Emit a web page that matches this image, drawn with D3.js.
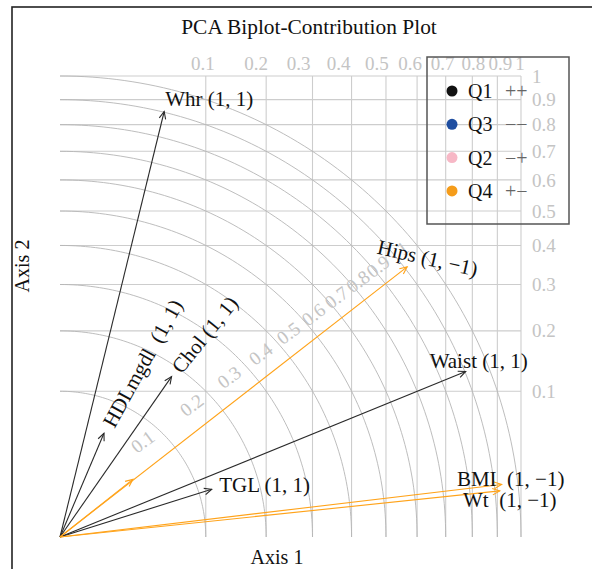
<!DOCTYPE html>
<html><head><meta charset="utf-8">
<script src="https://cdn.jsdelivr.net/npm/d3@7"></script>
<style>
body{margin:0;background:#fff}
text{font-family:"Liberation Serif","Times New Roman",Times,serif}
</style>
</head><body>
<svg id="c" width="592" height="569"></svg>
<script>
// ---- data ----
const cos2Ticks = [0.1,0.2,0.3,0.4,0.5,0.6,0.7,0.8,0.9,1];
const tickLabels = ["0.1","0.2","0.3","0.4","0.5","0.6","0.7","0.8","0.9","1"];
const variables = ["Whr","HDLmgdl","Chol","Hips","Waist","TGL","BMI","Wt","Hgt"];
const dim1 = [0.226,0.0954,0.242,0.753,0.880,0.329,0.958,0.954,0.158];
const dim2 = [0.923,0.225,0.348,0.586,0.359,0.1035,0.114,0.100,0.125];
const quadrant = ["Q1","Q1","Q1","Q4","Q1","Q1","Q4","Q4","Q4"];
const signText = ["(1, 1)","(1, 1)","(1, 1)","(1, \u22121)","(1, 1)","(1, 1)","(1, \u22121)","(1, \u22121)",""];
const legendKeys = ["Q1","Q3","Q2","Q4"];
const legendSigns = ["++","\u2212\u2212","\u2212+","+\u2212"];

// ---- styles / layout ----
const qColor = {Q1:"#111111",Q3:"#1f4ea0",Q2:"#f7b8c6",Q4:"#f59c1a"};
const arrowColor = {Q1:"#2a2a2a",Q4:"#ffa31a",Q2:"#f7b8c6",Q3:"#1f4ea0"};
// label placement: [dx, dy, rotation, gap] relative to arrow tip (px)
const labelLayout = {
  Whr:[45,-13,0," "], HDLmgdl:[38.5,-70,-61,"  "], Chol:[33,-42,-51," "],
  Hips:[20.5,-9,13," "], Waist:[13,-11,0," "], TGL:[53,-5,0," "],
  BMI:[9,-6,0,"  "], Wt:[10,8.5,0,"  "], Hgt:[0,0,0,""]
};
const topLabelNudge = [-3,-10,-14,-13,-9,-7,-3,1,3,-1];

const svg = d3.select("#c");
const x = d3.scaleLinear().domain([0,1]).range([60,521]);
const y = d3.scaleLinear().domain([0,1]).range([537,76]);
const R = x(1)-x(0);

// figure border
svg.append("rect").attr("x",12).attr("y",7).attr("width",620).attr("height",620)
  .attr("fill","none").attr("stroke","#222").attr("stroke-width",1.6);

// title
svg.append("text").attr("x",309).attr("y",34).attr("text-anchor","middle")
  .attr("font-size",21.4).attr("fill","#111").text("PCA Biplot-Contribution Plot");

const g = svg.append("g");
// grid lines
cos2Ticks.forEach(v=>{
  const s = Math.sqrt(v);
  g.append("line").attr("x1",x(s)).attr("x2",x(s)).attr("y1",y(0)).attr("y2",y(1))
    .attr("stroke","#cdcdcd").attr("stroke-width",1.1);
  g.append("line").attr("x1",x(0)).attr("x2",x(1)).attr("y1",y(s)).attr("y2",y(s))
    .attr("stroke","#cdcdcd").attr("stroke-width",1.1);
});
// arcs
const arcLine = d3.line().x(d=>x(d[0])).y(d=>y(d[1]));
cos2Ticks.forEach(v=>{
  const r = Math.sqrt(v);
  const pts = d3.range(0,90.5,1).map(a=>[r*Math.cos(a*Math.PI/180), r*Math.sin(a*Math.PI/180)]);
  g.append("path").attr("d",arcLine(pts)).attr("fill","none")
    .attr("stroke","#b5b5b5").attr("stroke-width",0.9);
});

// top tick labels
cos2Ticks.forEach((v,i)=>{
  svg.append("text").attr("x",x(Math.sqrt(v))+topLabelNudge[i]).attr("y",y(1)-6)
    .attr("text-anchor","middle").attr("font-size",19).attr("fill","#c4c4c4").text(tickLabels[i]);
});
// right tick labels
cos2Ticks.forEach((v,i)=>{
  svg.append("text").attr("x",x(1)+11).attr("y",y(Math.sqrt(v))).attr("dy","0.35em")
    .attr("text-anchor","start").attr("font-size",19).attr("fill","#c4c4c4").text(tickLabels[i]);
});
// arc labels along a straight guide line
const la = 0.0738, lb = 0.744, rotA = Math.atan(lb)*180/Math.PI;
cos2Ticks.forEach((v,i)=>{
  const r = Math.sqrt(v) - 8/R;
  const A = 1+lb*lb, B = 2*la*lb, C = la*la - r*r;
  const xx = (-B + Math.sqrt(B*B-4*A*C))/(2*A);
  const yy = la + lb*xx;
  svg.append("text").attr("transform",`translate(${x(xx)},${y(yy)}) rotate(${-rotA})`)
    .attr("text-anchor","end").attr("dy","0.35em").attr("font-size",19)
    .attr("fill","#c4c4c4").text(tickLabels[i]);
});

// arrows
const ah = 8, aa = 24*Math.PI/180;
variables.forEach((name,i)=>{
  const q = quadrant[i], col = arrowColor[q];
  const x0 = x(0), y0 = y(0), x1 = x(dim1[i]), y1 = y(dim2[i]);
  const ang = Math.atan2(y1-y0, x1-x0);
  g.append("line").attr("x1",x0).attr("y1",y0).attr("x2",x1).attr("y2",y1)
    .attr("stroke",col).attr("stroke-width",1.1);
  const p1 = [x1-ah*Math.cos(ang-aa), y1-ah*Math.sin(ang-aa)];
  const p2 = [x1-ah*Math.cos(ang+aa), y1-ah*Math.sin(ang+aa)];
  g.append("path").attr("d",`M${p1[0]},${p1[1]}L${x1},${y1}L${p2[0]},${p2[1]}`)
    .attr("fill","none").attr("stroke",col).attr("stroke-width",1.1);
});
// labels
variables.forEach((name,i)=>{
  if(!signText[i]) return;
  const L = labelLayout[name];
  const cx = x(dim1[i])+L[0], cy = y(dim2[i])+L[1];
  svg.append("text").attr("transform",`translate(${cx},${cy}) rotate(${L[2]})`)
    .attr("text-anchor","middle").attr("dy","0.35em").attr("font-size",21)
    .attr("fill","#111").style("white-space","pre").text(name+L[3]+signText[i]);
});

// legend
const lg = svg.append("g");
lg.append("rect").attr("x",427).attr("y",57).attr("width",142).attr("height",167)
  .attr("fill","none").attr("stroke","#555").attr("stroke-width",1.5);
legendKeys.forEach((k,i)=>{
  const yy = 91 + i*33.3;
  lg.append("circle").attr("cx",452).attr("cy",yy).attr("r",5.5).attr("fill",qColor[k]);
  lg.append("text").attr("x",468).attr("y",yy).attr("dy","0.35em").attr("font-size",20)
    .attr("fill","#111").text(k);
  lg.append("text").attr("x",505).attr("y",yy).attr("dy","0.35em").attr("font-size",20)
    .attr("fill","#666").text(legendSigns[i]);
});

// axis titles
svg.append("text").attr("x",277).attr("y",564).attr("text-anchor","middle")
  .attr("font-size",20).attr("fill","#111").text("Axis 1");
svg.append("text").attr("transform","translate(29,266) rotate(-90)").attr("text-anchor","middle")
  .attr("font-size",20).attr("fill","#111").text("Axis 2");
</script>
</body></html>
